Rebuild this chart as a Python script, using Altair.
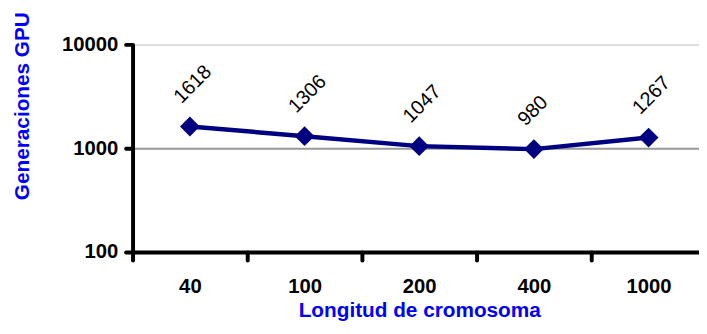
import altair as alt
import pandas as pd

categories = ["40", "100", "200", "400", "1000"]
generations = [1618, 1306, 1047, 980, 1267]
y_ticks = [100, 1000, 10000]

df = pd.DataFrame({"longitud": categories, "gen": generations})

FONT = "Liberation Sans"
NAVY = "#000080"
BLUE = "#0000FF"

x_enc = alt.X(
    "longitud:O",
    sort=categories,
    scale=alt.Scale(paddingInner=0, paddingOuter=0),
    axis=alt.Axis(
        title="Longitud de cromosoma",
        labelAngle=0,
        labelFont=FONT,
        labelFontSize=20.5,
        labelFontWeight="bold",
        labelColor="black",
        labelPadding=17,
        tickBand="extent",
        tickSize=8,
        tickWidth=4,
        tickCap="round",
        tickColor="black",
        domainColor="black",
        domainWidth=4,
        titleFont=FONT,
        titleFontSize=21,
        titleFontWeight="bold",
        titleColor=BLUE,
        titleY=65,
        titleBaseline="alphabetic",
        grid=False,
    ),
)

y_enc = alt.Y(
    "gen:Q",
    scale=alt.Scale(type="log", domain=[100, 10000]),
    axis=alt.Axis(
        title="Generaciones GPU",
        values=y_ticks,
        format="d",
        labelFont=FONT,
        labelFontSize=20.5,
        labelFontWeight="bold",
        labelColor="black",
        labelPadding=8,
        tickSize=7,
        tickWidth=4,
        tickCap="round",
        tickColor="black",
        domainColor="black",
        domainWidth=4,
        grid=True,
        gridColor={"condition": {"test": "datum.value === 1000", "value": "#999999"}, "value": "#dddddd"},
        gridWidth=2,
        titleFont=FONT,
        titleFontSize=21,
        titleFontWeight="bold",
        titleColor=BLUE,
        titleX=-111,
        titleY=62,
        titleBaseline="middle",
    ),
)

base = alt.Chart(df)

line = base.mark_line(color=NAVY, strokeWidth=4.5).encode(x=x_enc, y=y_enc)
points = base.mark_point(shape="diamond", filled=True, color=NAVY, size=400, opacity=1).encode(x=x_enc, y=y_enc)
labels = base.mark_text(
    angle=315, dx=10, dy=-28, align="left", baseline="middle",
    font=FONT, fontSize=20, color="black"
).encode(x=x_enc, y=y_enc, text=alt.Text("gen:Q", format="d"))

chart = (
    alt.layer(line, points, labels)
    .properties(
        width=580,
        height=210,
        autosize=alt.AutoSizeParams(type="none"),
        padding={"left": 126, "top": 35, "right": -7, "bottom": 70},
    )
    .configure_view(stroke=None)
    .configure(background="white")
)

chart.save("out.html", embed_options={"renderer": "svg", "actions": False})
